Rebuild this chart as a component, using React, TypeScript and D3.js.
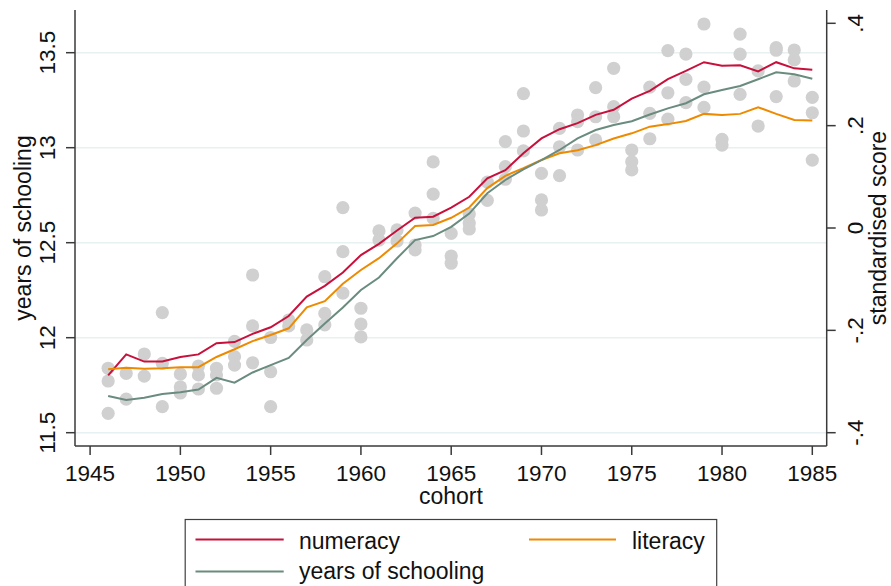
import React from "react";
import * as d3 from "d3";

// ---- data ----
const cohorts = [1946,1947,1948,1949,1950,1951,1952,1953,1954,1955,1956,1957,1958,1959,1960,1961,1962,1963,1964,1965,1966,1967,1968,1969,1970,1971,1972,1973,1974,1975,1976,1977,1978,1979,1980,1981,1982,1983,1984,1985];

const numeracy = [-0.288,-0.247,-0.261,-0.261,-0.252,-0.247,-0.225,-0.223,-0.207,-0.194,-0.172,-0.134,-0.113,-0.087,-0.053,-0.031,-0.005,0.020,0.022,0.040,0.061,0.097,0.113,0.146,0.175,0.193,0.205,0.221,0.231,0.253,0.268,0.291,0.307,0.324,0.317,0.318,0.306,0.324,0.312,0.309];

const literacy = [-0.276,-0.273,-0.275,-0.274,-0.272,-0.272,-0.252,-0.237,-0.221,-0.209,-0.196,-0.155,-0.143,-0.109,-0.082,-0.059,-0.030,0.004,0.006,0.020,0.040,0.078,0.102,0.117,0.133,0.146,0.152,0.162,0.175,0.185,0.198,0.203,0.209,0.223,0.221,0.223,0.236,0.223,0.211,0.210];

const schooling = [11.693,11.672,11.684,11.704,11.713,11.727,11.789,11.763,11.817,11.856,11.894,11.988,12.075,12.159,12.251,12.317,12.418,12.514,12.535,12.583,12.653,12.760,12.830,12.886,12.935,12.988,13.049,13.093,13.119,13.139,13.175,13.207,13.234,13.281,13.304,13.325,13.360,13.397,13.386,13.363];

const dotCohort = [
  1946,1946,1946, 1947,1947, 1948,1948, 1949,1949,1949, 1950,1950,1950,
  1951,1951,1951, 1952,1952,1952, 1953,1953,1953, 1954,1954,1954, 1955,1955,1955,
  1956,1956, 1957,1957, 1958,1958,1958, 1959,1959,1959, 1960,1960,1960,
  1961,1961, 1962,1962, 1963,1963,1963, 1964,1964,1964, 1965,1965,1965,
  1966,1966,1966, 1967,1967, 1968,1968,1968, 1969,1969,1969, 1970,1970,1970,
  1971,1971,1971, 1972,1972,1972, 1973,1973,1973, 1974,1974,1974, 1975,1975,1975,
  1976,1976,1976, 1977,1977,1977, 1978,1978,1978, 1979,1979,1979, 1980,1980,
  1981,1981,1981, 1982,1982, 1983,1983,1983, 1984,1984,1984, 1985,1985,1985
];
const dotSchooling = [
  11.839,11.772,11.602, 11.812,11.677, 11.914,11.798, 12.132,11.865,11.637, 11.809,11.741,11.709,
  11.851,11.804,11.730, 11.839,11.804,11.734, 11.981,11.900,11.856, 12.330,12.062,11.868, 12.001,11.821,11.637,
  12.093,12.062, 12.041,11.988, 12.321,12.128,12.068, 12.685,12.453,12.235, 12.155,12.072,12.004,
  12.562,12.514, 12.567,12.509, 12.656,12.488,12.462, 12.925,12.756,12.628, 12.549,12.430,12.392,
  12.651,12.604,12.572, 12.819,12.723, 13.032,12.900,12.834, 13.285,13.088,12.983, 12.865,12.725,12.672,
  13.102,13.005,12.853, 13.172,13.137,12.988, 13.316,13.163,13.041, 13.418,13.216,13.163, 12.988,12.926,12.883,
  13.319,13.181,13.047, 13.511,13.289,13.150, 13.493,13.360,13.237, 13.651,13.319,13.212, 13.044,13.014,
  13.598,13.492,13.281, 13.404,13.114, 13.527,13.513,13.269, 13.514,13.462,13.351, 13.265,13.184,12.935
];

const xTicks = [1945,1950,1955,1960,1965,1970,1975,1980,1985];
const leftTicks = [11.5,12,12.5,13,13.5];
const leftTickLabels = ["11.5","12","12.5","13","13.5"];
const rightTicks = [-0.4,-0.2,0,0.2,0.4];
const rightTickLabels = ["-.4","-.2","0",".2",".4"];

const seriesNames = ["numeracy","literacy","years of schooling"];
const seriesColors = ["#c8103c","#ee8a00","#6a8c7e"];

export default function App() {
  const W = 891, H = 586;
  const left = 75, right = 826.7, top = 10, bottom = 446;
  const x = d3.scaleLinear().domain([1945, 1985]).range([90.1, 812.3]);
  const yL = d3.scaleLinear().domain([11.5, 13.5]).range([432.7, 52.7]);
  const yR = d3.scaleLinear().domain([-0.4, 0.4]).range([432.7, 23.3]);

  const lineR = d3.line<number>().x((_, i) => x(cohorts[i])).y(d => yR(d));
  const lineL = d3.line<number>().x((_, i) => x(cohorts[i])).y(d => yL(d));

  const font = "'Liberation Sans', Arial, Helvetica, sans-serif";
  const axisColor = "#3a3a3a";
  const tickFs = 22.5;
  const titleFs = 23;

  return (
    <svg width={W} height={H} style={{ position: "absolute", left: 0, top: 0, background: "#fff" }} fontFamily={font}>
      <rect x={0} y={0} width={W} height={H} fill="#ffffff" />
      {/* gridlines */}
      {leftTicks.map(t => (
        <line key={"g" + t} x1={left} x2={right} y1={yL(t)} y2={yL(t)} stroke="#e8f0f2" strokeWidth={1.6} />
      ))}
      {/* dots */}
      {dotCohort.map((c, i) => (
        <circle key={"d" + i} cx={x(c)} cy={yL(dotSchooling[i])} r={6.6} fill="#d0d0d0" />
      ))}
      {/* lines */}
      <path d={lineR(numeracy) || ""} fill="none" stroke={seriesColors[0]} strokeWidth={2} />
      <path d={lineR(literacy) || ""} fill="none" stroke={seriesColors[1]} strokeWidth={2} />
      <path d={lineL(schooling) || ""} fill="none" stroke={seriesColors[2]} strokeWidth={2} />

      {/* axes */}
      <line x1={left} x2={left} y1={top} y2={bottom} stroke={axisColor} strokeWidth={1.5} />
      <line x1={right} x2={right} y1={top} y2={bottom} stroke={axisColor} strokeWidth={1.5} />
      <line x1={left} x2={right} y1={bottom} y2={bottom} stroke={axisColor} strokeWidth={1.5} />

      {xTicks.map(t => (
        <g key={"x" + t}>
          <line x1={x(t)} x2={x(t)} y1={bottom} y2={bottom + 9} stroke={axisColor} strokeWidth={1.5} />
          <text x={x(t)} y={480.5} textAnchor="middle" fontSize={tickFs} fill="#111">{t}</text>
        </g>
      ))}
      {leftTicks.map((t, i) => (
        <g key={"l" + t}>
          <line x1={left - 9} x2={left} y1={yL(t)} y2={yL(t)} stroke={axisColor} strokeWidth={1.5} />
          <text transform={`translate(55,${yL(t)}) rotate(-90)`} textAnchor="middle" fontSize={tickFs} fill="#111">{leftTickLabels[i]}</text>
        </g>
      ))}
      {rightTicks.map((t, i) => (
        <g key={"r" + t}>
          <line x1={right} x2={right + 9} y1={yR(t)} y2={yR(t)} stroke={axisColor} strokeWidth={1.5} />
          <text transform={`translate(863,${yR(t)}) rotate(-90)`} textAnchor="middle" fontSize={tickFs} fill="#111">{rightTickLabels[i]}</text>
        </g>
      ))}

      {/* axis titles */}
      <text x={(left + right) / 2} y={504} textAnchor="middle" fontSize={titleFs} fill="#111">cohort</text>
      <text transform={`translate(31,228) rotate(-90)`} textAnchor="middle" fontSize={titleFs} fill="#111">years of schooling</text>
      <text transform={`translate(886,228) rotate(-90)`} textAnchor="middle" fontSize={titleFs} fill="#111">standardised score</text>

      {/* legend */}
      <rect x={185.2} y={519.5} width={531.5} height={100} fill="#fff" stroke="#404040" strokeWidth={1.2} />
      <line x1={195.5} x2={283.7} y1={539.5} y2={539.5} stroke={seriesColors[0]} strokeWidth={2} />
      <text x={299} y={548.5} fontSize={titleFs} fill="#111">{seriesNames[0]}</text>
      <line x1={529} x2={616} y1={539.5} y2={539.5} stroke={seriesColors[1]} strokeWidth={2} />
      <text x={632} y={548.5} fontSize={titleFs} fill="#111">{seriesNames[1]}</text>
      <line x1={195.5} x2={283.7} y1={571.5} y2={571.5} stroke={seriesColors[2]} strokeWidth={2} />
      <text x={299} y={578.5} fontSize={titleFs} fill="#111">{seriesNames[2]}</text>
    </svg>
  );
}
